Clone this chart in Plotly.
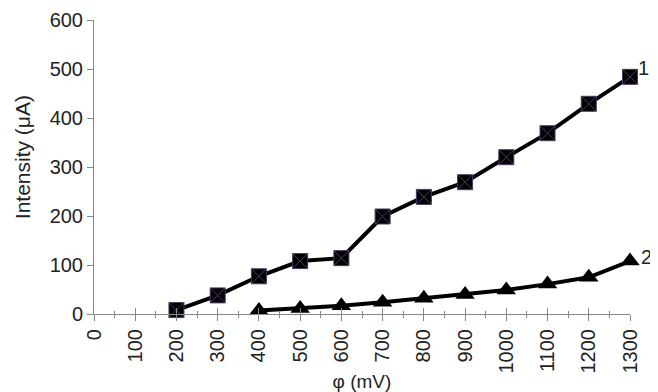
import plotly.graph_objects as go

x1 = [200, 300, 400, 500, 600, 700, 800, 900, 1000, 1100, 1200, 1300]
y1 = [8, 38, 77, 108, 114, 199, 239, 269, 320, 369, 429, 484]
x2 = [400, 500, 600, 700, 800, 900, 1000, 1100, 1200, 1300]
y2 = [7, 11, 17, 24, 32, 40, 49, 61, 75, 108]
xticks = list(range(0, 1301, 100))
yticks = list(range(0, 601, 100))

font = "Liberation Sans, Arial, sans-serif"
fig = go.Figure()
fig.add_trace(go.Scatter(x=x1, y=y1, mode="lines+markers", cliponaxis=False,
                         line=dict(color="black", width=4),
                         marker=dict(symbol="square-x", size=15, color="black",
                                     line=dict(color="#4a3a66", width=1))))
fig.add_trace(go.Scatter(x=x2, y=y2, mode="lines+markers", cliponaxis=False,
                         line=dict(color="black", width=4),
                         marker=dict(symbol="triangle-up", size=17, color="black")))
# dummy trace for second x axis (inside ticks)
fig.add_trace(go.Scatter(x=[0], y=[0], xaxis="x2", mode="markers",
                         marker=dict(opacity=0), hoverinfo="skip"))
fig.add_annotation(x=x1[-1], y=y1[-1], text="1", showarrow=False, xanchor="left",
                   xshift=6, yshift=9, font=dict(size=20, color="#222", family=font))
fig.add_annotation(x=x2[-1], y=y2[-1], text="2", showarrow=False, xanchor="left",
                   xshift=9, yshift=4, font=dict(size=20, color="#222", family=font))
fig.add_annotation(xref="paper", yref="paper", x=-0.134, y=0.534, text="Intensity (μA)",
                   textangle=-90, showarrow=False, xanchor="center", yanchor="middle",
                   font=dict(size=21, color="#222", family=font))
tf = dict(family=font, size=20, color="#222")
fig.update_layout(
    width=650, height=384, showlegend=False,
    margin=dict(l=86, r=28, t=12, b=78, autoexpand=False),
    plot_bgcolor="white", paper_bgcolor="white",
    font=dict(family=font, size=19, color="#222"),
    xaxis=dict(range=[0, 1300], tickvals=xticks, tickangle=-90, automargin=False,
               tickfont=tf,
               showgrid=False, zeroline=False, showline=True, linecolor="#888",
               linewidth=1, ticks="outside", ticklen=6, tickcolor="#888",
               minor=dict(dtick=50, ticks="outside", ticklen=3, tickcolor="#888"),
               title=dict(text="φ (mV)", font=dict(size=19), standoff=2)),
    xaxis2=dict(range=[0, 1300], overlaying="x", side="bottom", tickvals=xticks,
                showticklabels=False, showgrid=False, zeroline=False, automargin=False,
                ticks="inside", ticklen=6, tickcolor="#888",
                minor=dict(dtick=50, ticks="inside", ticklen=3, tickcolor="#888")),
    yaxis=dict(range=[0, 600], tickvals=yticks, showgrid=False, zeroline=False,
               tickfont=tf,
               showline=True, linecolor="#888", linewidth=1, automargin=False,
               ticks="outside", ticklen=6, tickcolor="#888"),
)
fig.write_html("out.html")
